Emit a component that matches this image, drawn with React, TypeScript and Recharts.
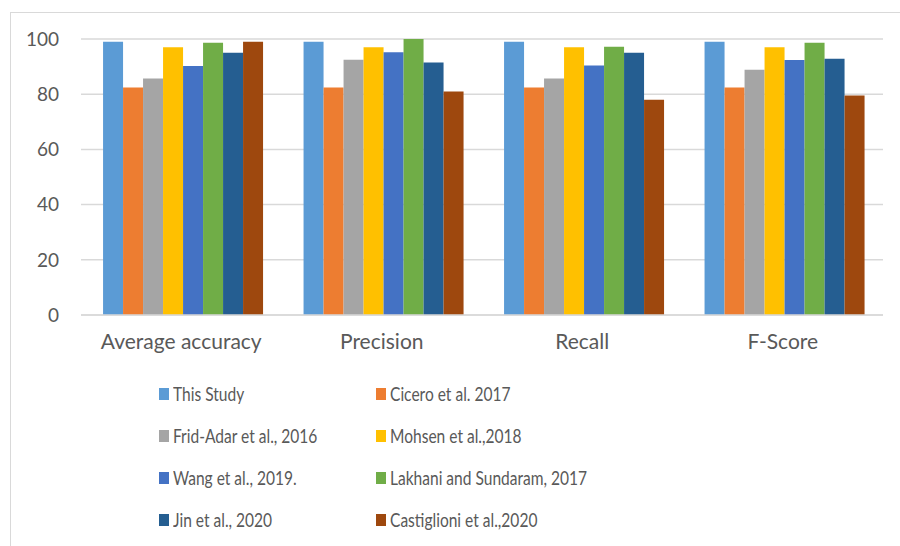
import React from "react";
import { BarChart, Bar, XAxis, YAxis, CartesianGrid, Legend } from "recharts";

const CATEGORIES = ["Average accuracy", "Precision", "Recall", "F-Score"];

const SERIES = [
  { key: "thisStudy", name: "This Study", color: "#5B9BD5" },
  { key: "cicero", name: "Cicero et al. 2017", color: "#ED7D31" },
  { key: "fridAdar", name: "Frid-Adar et al., 2016", color: "#A5A5A5" },
  { key: "mohsen", name: "Mohsen et al.,2018", color: "#FFC000" },
  { key: "wang", name: "Wang et al., 2019.", color: "#4472C4" },
  { key: "lakhani", name: "Lakhani and Sundaram, 2017", color: "#70AD47" },
  { key: "jin", name: "Jin et al., 2020", color: "#255E91" },
  { key: "castiglioni", name: "Castiglioni et al.,2020", color: "#9E480E" },
];

// values per category: accuracy, precision, recall, f-score
const thisStudy = [99, 99, 99, 99];
const cicero = [82.4, 82.4, 82.4, 82.4];
const fridAdar = [85.7, 92.5, 85.7, 88.9];
const mohsen = [97, 97, 97, 97];
const wang = [90.2, 95.2, 90.4, 92.4];
const lakhani = [98.6, 100, 97.2, 98.6];
const jin = [95, 91.5, 95, 92.8];
const castiglioni = [99, 81, 78, 79.5];

const Y_TICKS = [0, 20, 40, 60, 80, 100];

const VALUES: Record<string, number[]> = { thisStudy, cicero, fridAdar, mohsen, wang, lakhani, jin, castiglioni };

const data = CATEGORIES.map((c, i) => {
  const row: any = { category: c };
  SERIES.forEach((s) => (row[s.key] = VALUES[s.key][i]));
  return row;
});

const FONT = "Lato, 'Open Sans', sans-serif";
const TEXT = "#595959";

// two-column legend like the Excel original
const renderLegend = () => (
  <div
    style={{
      height: 181,
      boxSizing: "border-box",
      paddingTop: 13,
      paddingLeft: 159,
      display: "grid",
      gridTemplateColumns: "217px 300px",
      gridAutoRows: "42px",
      fontFamily: FONT,
      fontSize: 18.5,
      color: TEXT,
    }}
  >
    {SERIES.map((s) => (
      <div key={s.key} style={{ display: "flex", alignItems: "center", height: 42 }}>
        <span style={{ width: 10, height: 12, background: s.color, display: "inline-block", marginRight: 4, flex: "none" }} />
        <span style={{ whiteSpace: "nowrap", display: "inline-block", transform: "scaleX(0.84)", transformOrigin: "left center" }}>
          {s.name}
        </span>
      </div>
    ))}
  </div>
);

export default function App() {
  return (
    <div style={{ position: "absolute", left: 0, top: 0, width: 900, height: 546, background: "#fff", overflow: "hidden" }}>
      <div
        style={{
          position: "absolute",
          left: 10,
          top: 12,
          width: 900,
          height: 546,
          borderTop: "1px solid #d9d9d9",
          borderLeft: "1px solid #d9d9d9",
        }}
      />
      <div style={{ position: "absolute", left: 0, top: 0 }}>
        <BarChart
          width={900}
          height={546}
          data={data}
          margin={{ top: 39, right: 17, bottom: 5, left: 0 }}
          barCategoryGap="11%"
          barGap={0}
        >
          <CartesianGrid vertical={false} stroke="#d9d9d9" strokeWidth={1.5} />
          <XAxis
            dataKey="category"
            height={45}
            tickLine={false}
            tickSize={0}
            tickMargin={19}
            axisLine={{ stroke: "#d9d9d9", strokeWidth: 1.5 }}
            tick={{ fill: TEXT, fontSize: 21, fontFamily: FONT }}
          />
          <YAxis
            width={81}
            domain={[0, 100]}
            ticks={Y_TICKS}
            axisLine={false}
            tickLine={false}
            tickSize={0}
            tickMargin={22}
            tick={{ fill: TEXT, fontSize: 19, fontFamily: FONT }}
          />
          <Legend verticalAlign="bottom" content={renderLegend} />
          {SERIES.map((s) => (
            <Bar key={s.key} dataKey={s.key} name={s.name} fill={s.color} isAnimationActive={false} />
          ))}
        </BarChart>
      </div>
    </div>
  );
}
